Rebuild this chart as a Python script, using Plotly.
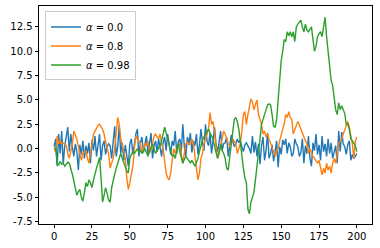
import plotly.graph_objects as go

t = list(range(201))

series_blue = [
    0.2, 1.0, -1.8, 1.5, -0.5, 1.8, -1.6, 0.3, 1.2, 2.2,
    -0.3, 1.5, 0.2, -0.8, 0.5, -0.3, -2.2, 0.4, -0.6, 0.8,
    -1.0, 0.3, -0.5, 0.6, -1.5, 0.9, -0.2, 1.3, -0.8, 0.5,
    1.5, -1.2, 0.3, 0.8, -0.6, 0.2, 0.5, 0.3, -1.0, 0.7,
    2.3, -0.8, 0.2, 2.4, -0.5, 0.6, -1.2, 0.4, -0.8, -1.8,
    0.5, 1.0, -0.6, 0.8, 1.5, 2.0, -0.8, 0.6, 1.2, -0.4,
    0.5, 1.3, -0.6, 0.4, 1.6, -1.0, 0.3, 0.8, -0.3, 1.0,
    0.2, -0.8, 0.6, 1.2, -0.2, 1.5, 0.4, -0.6, 0.8, 0.3,
    1.8, -0.5, 0.7, 1.0, -0.3, 2.5, 0.2, -0.8, 1.2, 0.5,
    1.6, -0.4, 0.8, 0.3, 1.5, -0.6, 0.4, 2.0, 0.6, -0.2,
    2.5, 0.8, 0.3, 1.6, -0.5, 1.0, 2.2, 0.4, -0.3, 0.7,
    1.8, -0.2, 0.5, 0.6, 1.2, -0.8, 0.3, 1.4, 0.8, 0.2,
    0.5, 1.0, 0.6, 0.9, 0.2, -0.3, 0.4, 0.6, 0.3, 0.0,
    -0.5, 1.3, -0.4, 0.7, -0.8, 0.5, -1.6, 0.3, 1.2, -1.2,
    -0.2, 1.6, -1.0, -0.5, 0.4, -1.3, -0.3, 0.8, -1.9, 0.2,
    -0.6, 0.9, 0.4, 1.0, -0.5, 0.6, 0.2, -0.8, -0.5, 1.0,
    0.5, 0.2, -0.8, -0.4, 1.0, -1.5, 0.3, -0.5, 1.3, -1.0,
    -1.8, 0.6, -0.2, 1.5, -0.6, 0.4, -1.2, 1.3, -0.3, 0.5,
    -0.8, 1.0, -0.5, 0.6, -1.0, -0.4, 0.3, -1.5, 1.8, -0.3,
    1.7, 0.5, 0.2, -0.6, 0.4, 0.8, -1.2, -0.6, -1.0, -0.8,
    -0.5,
]

series_orange = [
    0.0, -0.3, 1.3, 0.5, 0.8, 0.5, 0.6, 0.4, 0.3, -0.5,
    -1.0, -0.3, 0.5, 1.8, 1.3, 1.0, 0.2, -0.5, -1.2, -0.5,
    -0.3, -0.2, -1.0, -1.5, -0.5, 0.5, 1.5, 1.8, 2.2, 2.4,
    2.5, 2.3, 2.0, 1.5, 0.5, 0.0, -0.5, -2.0, -1.5, -1.0,
    0.0, 2.0, 3.2, 2.5, 1.0, 0.3, -0.5, -1.0, -3.0, -4.2,
    -3.5, -2.5, -1.8, 0.0, 1.3, 1.0, 0.8, 0.5, -0.5, 0.0,
    0.5, 0.3, 0.8, -0.5, 0.0, 0.5, 1.3, 1.5, 1.2, 1.0,
    1.5, 0.5, 0.0, -1.5, -2.5, -3.0, -3.2, -2.5, -1.0, 0.0,
    -0.5, 0.0, 0.3, 0.5, -0.5, -1.5, -0.5, 0.5, 0.7, 0.4,
    0.5, 1.0, 0.5, -1.0, -2.0, -3.2, -2.5, -1.0, -0.5, 0.5,
    1.0, 1.5, 2.0, 3.7, 2.5, 2.8, 1.5, 0.0, -1.0, -0.5,
    0.5, 1.0, 1.8, 1.5, 1.0, 0.5, 0.3, 0.5, 1.0, 0.8,
    0.5, -0.5, 0.0, 0.5, 1.8, 3.5, 3.8, 2.5, 3.5, 4.5,
    5.1, 4.8, 4.0, 4.5, 5.0, 3.5, 3.0, 2.5, 1.5, 1.8,
    1.2, 1.5, 1.0, 0.5, 0.0, -0.5, -0.8, -0.3, 0.0, 0.8,
    1.5, 2.0, 2.5, 3.5, 3.2, 3.8, 3.2, 3.0, 1.5, 2.0,
    2.5, 2.8, 2.4, 2.0, 1.5, 1.0, 0.8, 0.5, -0.5, 0.0,
    -0.5, -0.8, -1.0, -1.3, -1.5, -1.2, -2.0, -2.7, -2.0, -2.5,
    -1.5, -2.2, -1.8, -2.5, -1.5, -1.0, -1.5, -0.5, 0.5, 0.8,
    1.0, 1.5, 2.0, 2.5, 2.8, 2.2, 1.5, 0.5, -1.0, 0.8,
    1.2,
]

series_green = [
    0.0, 0.1, -1.5, -1.7, -1.3, -1.6, -1.5, -1.8, -1.6, -1.4,
    -1.5, -2.0, -2.6, -3.3, -4.0, -4.8, -4.4, -4.2, -5.0, -5.4,
    -4.5, -3.5, -3.9, -3.2, -3.5, -4.0, -3.2, -2.5, -2.0, -1.5,
    -0.9, -3.0, -5.5, -4.8, -4.0, -4.6, -5.3, -5.5, -4.0, -3.3,
    -2.5, -2.0, -1.5, -1.0, -0.5, -1.0, -1.5, -2.0, -2.3, -2.5,
    -1.0, -0.6, -0.3, -0.5, -0.2, 0.0, -0.4, -0.2, -0.5, -0.3,
    0.0, -0.4, -0.8, -0.2, 0.2, 0.5, -0.1, -0.5, -0.2, 0.1,
    0.3, 0.8, 1.5, 2.2, 1.6, 1.0, 0.2, -0.5, -0.8, -0.6,
    -1.0, -0.2, 0.5, -0.3, -0.9, -1.5, -1.1, -0.8, -1.0, -1.3,
    -1.5, -1.2, -1.6, -1.8, -1.4, -1.0, -0.3, 0.5, 0.9, 1.2,
    1.5, 1.8, 2.0, 1.6, 1.3, 1.0, 0.2, -0.5, -1.0, -0.3,
    0.5, -0.2, -0.5, -1.0, -2.0, -2.2, -1.0, 0.5, 1.8, 3.0,
    3.2, 2.8, 2.0, 0.5, -1.0, -2.0, -3.0, -3.5, -6.2, -6.7,
    -5.5, -5.0, -4.5, -3.2, -2.0, -0.5, 1.0, 2.5, 3.0, 3.5,
    4.0, 4.5, 4.6, 4.5, 3.5, 2.3, 2.2, 3.0, 5.0, 7.0,
    9.0, 10.0, 11.2, 11.0, 12.0, 11.6, 12.0, 11.5, 12.0, 11.0,
    12.5, 12.8, 13.0, 13.2, 12.5, 12.0, 12.8, 12.2, 12.0, 12.3,
    12.5, 11.2, 10.0, 10.5, 11.5, 11.8, 12.0, 11.5, 12.5, 13.5,
    11.5, 10.0, 8.5, 7.0, 6.5, 5.0, 4.0, 3.5, 4.7, 4.0,
    4.4, 4.0, 3.6, 2.5, 2.5, 2.0, 1.0, 0.8, 0.5, 0.3,
    -0.3,
]

names = ["<i>α</i> = 0.0", "<i>α</i> = 0.8", "<i>α</i> = 0.98"]
colors = ["#1f77b4", "#ff7f0e", "#2ca02c"]
x_ticks = [0, 25, 50, 75, 100, 125, 150, 175, 200]
y_ticks = [-7.5, -5.0, -2.5, 0.0, 2.5, 5.0, 7.5, 10.0, 12.5]

fig = go.Figure()
for ys, nm, c in zip([series_blue, series_orange, series_green], names, colors):
    fig.add_trace(go.Scatter(x=t, y=ys, mode="lines", name=nm,
                             line=dict(color=c, width=1.4)))

axis_common = dict(showgrid=False, zeroline=False, showline=True, linecolor="black",
                   linewidth=0.8, mirror=True, ticks="outside", ticklen=3.5,
                   tickcolor="black", tickwidth=0.8,
                   tickfont=dict(family="DejaVu Sans", size=10, color="black"))

fig.update_layout(
    width=380, height=248,
    margin=dict(l=39, r=8, t=6, b=24),
    paper_bgcolor="white", plot_bgcolor="white",
    font=dict(family="DejaVu Sans", size=10, color="black"),
    xaxis=dict(range=[-10, 210], tickvals=x_ticks,
               ticktext=[str(v) for v in x_ticks], **axis_common),
    yaxis=dict(range=[-7.74, 14.65], tickvals=y_ticks,
               ticktext=[f"{v:.1f}" for v in y_ticks], **axis_common),
    legend=dict(x=0.018, y=0.975, xanchor="left", yanchor="top",
                bgcolor="rgba(255,255,255,0.8)", bordercolor="#cccccc", borderwidth=1,
                font=dict(family="DejaVu Sans", size=10), tracegroupgap=0,
                itemwidth=30),
    showlegend=True,
)

fig.write_html("out.html")
